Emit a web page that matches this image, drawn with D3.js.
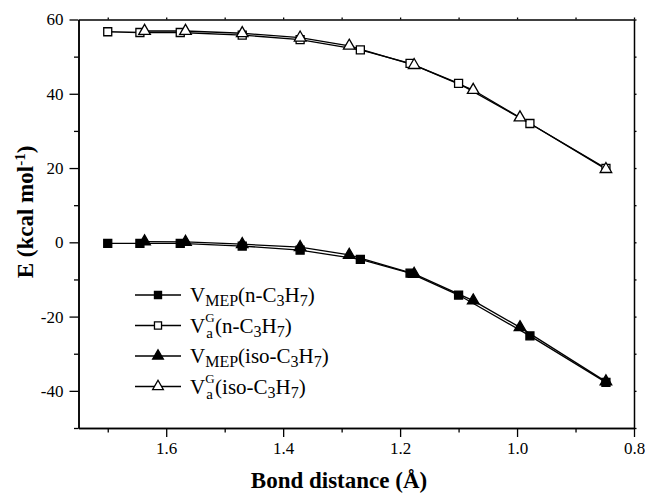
<!DOCTYPE html>
<html>
<head>
<meta charset="utf-8">
<script src="https://cdn.jsdelivr.net/npm/d3@7"></script>
<style>
  body { margin: 0; background: #fff; }
  svg { display: block; }
  text { font-family: "Liberation Serif", "Times New Roman", serif; fill: #000; }
</style>
</head>
<body>
<svg width="645" height="494"></svg>
<script>
// bond distances (Å)
var dist_n = [1.70, 1.645, 1.576, 1.470, 1.371, 1.268, 1.183, 1.100, 0.978, 0.848];
var dist_iso = [1.637, 1.567, 1.470, 1.371, 1.287, 1.176, 1.075, 0.995, 0.848];
// energies (kcal/mol)
var vmep_n = [-0.3, -0.3, -0.3, -1.0, -2.1, -4.6, -8.3, -14.2, -25.2, -37.7];
var vag_n = [56.7, 56.5, 56.5, 55.8, 54.6, 51.8, 48.2, 42.8, 32.0, 19.9];
var vmep_iso = [0.2, 0.1, -0.5, -1.3, -3.4, -8.5, -15.7, -22.9, -37.5];
var vag_iso = [56.9, 56.9, 56.3, 55.1, 52.9, 47.7, 41.0, 33.6, 19.7];

var xMajor = [1.6, 1.4, 1.2, 1.0, 0.8];
var xMinor = [1.7, 1.5, 1.3, 1.1, 0.9];
var yMajor = [60, 40, 20, 0, -20, -40];
var yMinor = [50, 30, 10, -10, -30, -50];

var series = [
  { x: dist_n, y: vmep_n, shape: "square", fill: "#000", label: "mep", mol: "n" },
  { x: dist_n, y: vag_n, shape: "square", fill: "#fff", label: "ag", mol: "n" },
  { x: dist_iso, y: vmep_iso, shape: "triangle", fill: "#000", label: "mep", mol: "iso" },
  { x: dist_iso, y: vag_iso, shape: "triangle", fill: "#fff", label: "ag", mol: "iso" }
];

var svg = d3.select("svg");
var L = 78.5, R = 634, T = 19.5, B = 428;

var x = d3.scaleLinear().domain([1.75, 0.8]).range([L, R]);
var y = d3.scaleLinear().domain([-50, 60]).range([B, T]);

// frame / axes
function styleAxis(g) {
  g.attr("font-family", null);
  g.select(".domain").attr("stroke", "#000").attr("stroke-width", 1.5);
  g.selectAll(".tick line").attr("stroke", "#000").attr("stroke-width", 1.3);
  g.selectAll(".tick text").style("font-size", "17px").attr("fill", "#000");
}

svg.append("g").attr("transform", "translate(0," + B + ")")
  .call(d3.axisBottom(x).tickValues(xMajor).tickSize(9).tickSizeOuter(0).tickPadding(5).tickFormat(d3.format(".1f")))
  .call(styleAxis);
svg.append("g").attr("transform", "translate(0," + B + ")")
  .call(d3.axisBottom(x).tickValues(xMinor).tickSize(4.5).tickSizeOuter(0).tickFormat(""))
  .call(styleAxis);

svg.append("g").attr("transform", "translate(" + L + ",0)")
  .call(d3.axisLeft(y).tickValues(yMajor).tickSize(9).tickSizeOuter(0).tickPadding(6)
    .tickFormat(function (d) { return String(d); }))
  .call(styleAxis);
svg.append("g").attr("transform", "translate(" + L + ",0)")
  .call(d3.axisLeft(y).tickValues(yMinor).tickSize(4.5).tickSizeOuter(0).tickFormat(""))
  .call(styleAxis);

svg.append("g").attr("transform", "translate(0," + T + ")")
  .call(d3.axisTop(x).tickValues(xMajor.concat(xMinor)).tickSize(2).tickSizeOuter(0).tickFormat(""))
  .call(styleAxis);
svg.append("g").attr("transform", "translate(" + R + ",0)")
  .call(d3.axisRight(y).tickValues(yMajor.concat(yMinor)).tickSize(2.5).tickSizeOuter(0).tickFormat(""))
  .call(styleAxis);

// axis titles
svg.append("text")
  .attr("x", 339).attr("y", 488)
  .attr("text-anchor", "middle")
  .style("font-size", "23px").style("font-weight", "bold")
  .text("Bond distance (Å)");

var yt = svg.append("text")
  .attr("transform", "translate(33,212) rotate(-90)")
  .attr("text-anchor", "middle")
  .style("font-size", "23px").style("font-weight", "bold");
yt.append("tspan").text("E (kcal mol");
yt.append("tspan").attr("dy", -8).style("font-size", "15px").text("-1");
yt.append("tspan").attr("dy", 8).text(")");

// data
var line = d3.line()
  .x(function (d) { return x(d[0]); })
  .y(function (d) { return y(d[1]); });

var sym = {
  square: d3.symbol().type(d3.symbolSquare).size(64),
  triangle: d3.symbol().type(d3.symbolTriangle).size(58)
};

series.forEach(function (s) {
  var pts = s.x.map(function (d, i) { return [d, s.y[i]]; });
  svg.append("path")
    .attr("d", line(pts))
    .attr("fill", "none")
    .attr("stroke", "#000")
    .attr("stroke-width", 1.3);
});

series.forEach(function (s) {
  var pts = s.x.map(function (d, i) { return [d, s.y[i]]; });
  svg.append("g").selectAll("path")
    .data(pts)
    .enter()
    .append("path")
    .attr("transform", function (d) { return "translate(" + x(d[0]) + "," + y(d[1]) + ")"; })
    .attr("d", sym[s.shape]())
    .attr("fill", s.fill)
    .attr("stroke", "#000")
    .attr("stroke-width", 1.3);
});

// legend
var legY = [295, 325.5, 356, 386.5];
series.forEach(function (s, i) {
  var cy = legY[i];
  var g = svg.append("g");
  g.append("line")
    .attr("x1", 135).attr("x2", 181).attr("y1", cy).attr("y2", cy)
    .attr("stroke", "#000").attr("stroke-width", 1.3);
  g.append("path")
    .attr("transform", "translate(158," + cy + ")")
    .attr("d", d3.symbol().type(s.shape == "square" ? d3.symbolSquare : d3.symbolTriangle).size(50)())
    .attr("fill", s.fill)
    .attr("stroke", "#000")
    .attr("stroke-width", 1.3);

  var base = cy + 7;
  var tx = 190;
  var v = g.append("text").attr("x", tx).attr("y", base).style("font-size", "21px").text("V");
  tx += v.node().getComputedTextLength();
  if (s.label == "mep") {
    var sub = g.append("text").attr("x", tx).attr("y", base + 4).style("font-size", "16px").text("MEP");
    tx += sub.node().getComputedTextLength();
  } else {
    var sg = g.append("text").attr("x", tx).attr("y", base - 11).style("font-size", "13px").text("G");
    var sa = g.append("text").attr("x", tx + 1).attr("y", base + 5).style("font-size", "15px").text("a");
    tx += Math.max(sg.node().getComputedTextLength(), sa.node().getComputedTextLength() + 1) + 0.5;
  }
  var rest = g.append("text").attr("x", tx).attr("y", base).style("font-size", "21px");
  rest.append("tspan").text("(" + s.mol + "-C");
  rest.append("tspan").attr("dy", 4).style("font-size", "16px").text("3");
  rest.append("tspan").attr("dy", -4).text("H");
  rest.append("tspan").attr("dy", 4).style("font-size", "16px").text("7");
  rest.append("tspan").attr("dy", -4).text(")");
});
</script>
</body>
</html>
